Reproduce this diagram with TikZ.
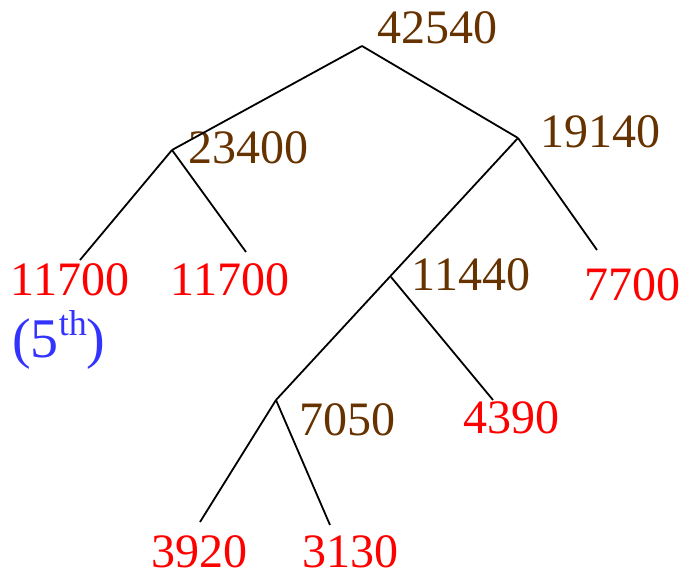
\documentclass[tikz,border=0pt]{standalone}
\usepackage{fontspec}
\setmainfont{Liberation Serif}
\definecolor{brn}{RGB}{102,51,0}
\definecolor{rd}{RGB}{255,0,0}
\definecolor{bl}{RGB}{51,51,255}
\begin{document}
\begin{tikzpicture}[x=1pt,y=-1pt,
  lbl/.style={inner sep=0pt,font=\fontsize{48}{52}\selectfont},
  inner/.style={lbl,text=brn},
  leaf/.style={lbl,text=rd},
  edge/.style={line width=1.8pt,black}]
\useasboundingbox (0,0) rectangle (687,578);
% junctions
\coordinate (r) at (362,46);
\coordinate (a) at (172,150);
\coordinate (b) at (518,138);
\coordinate (d) at (391,277);
\coordinate (c) at (276,400);
\coordinate (e1) at (80,260);
\coordinate (e2) at (246,252);
\coordinate (e3) at (597,250);
\coordinate (e4) at (493,400);
\coordinate (e5) at (200,522);
\coordinate (e6) at (330,525);
% labels
\node[inner] (n42540) at (437,28) {42540};
\node[inner] (n23400) at (248,148) {23400};
\node[inner] (n19140) at (600,132) {19140};
\node[inner] (n11440) at (471,275) {11440};
\node[inner] (n7050) at (347,420) {7050};
\node[leaf] (n11700a) at (70,280) {11700};
\node[leaf] (n11700b) at (230,280) {11700};
\node[leaf] (n7700) at (632,285) {7700};
\node[leaf] (n4390) at (511,418) {4390};
\node[leaf] (n3920) at (199,552) {3920};
\node[leaf] (n3130) at (350,552) {3130};
\node[inner sep=0pt,text=bl,anchor=west,font=\fontsize{56}{60}\selectfont] (n5th) at (12,340) {(5\raisebox{0.38em}{\fontsize{36}{38}\selectfont th})};
% edges
\draw[edge] (r) -- (a);
\draw[edge] (r) -- (b);
\draw[edge] (a) -- (e1);
\draw[edge] (a) -- (e2);
\draw[edge] (b) -- (e3);
\draw[edge] (b) -- (c);
\draw[edge] (d) -- (e4);
\draw[edge] (c) -- (e5);
\draw[edge] (c) -- (e6);
\end{tikzpicture}
\end{document}
